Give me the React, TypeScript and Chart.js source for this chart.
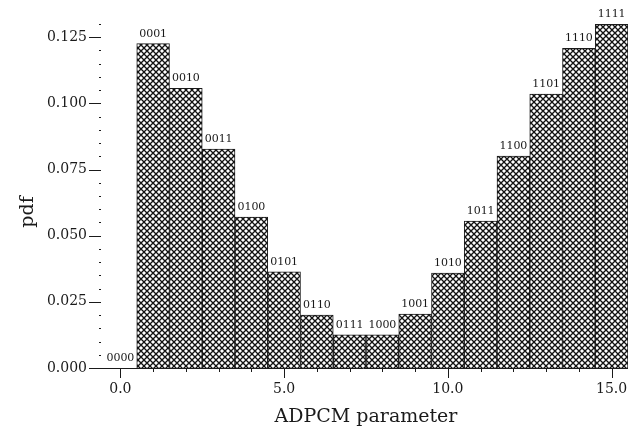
import { useEffect, useRef } from 'react';
import { Chart, registerables } from 'chart.js';

Chart.register(...registerables);

// ADPCM parameter values (x categories)
const parameters = [0, 1, 2, 3, 4, 5, 6, 7, 8, 9, 10, 11, 12, 13, 14, 15];
// binary code labels drawn above each bar
const codes = [
  '0000', '0001', '0010', '0011', '0100', '0101', '0110', '0111',
  '1000', '1001', '1010', '1011', '1100', '1101', '1110', '1111',
];
// probability density of each parameter value
const pdf = [
  0.0, 0.1226, 0.1057, 0.0827, 0.057, 0.0363, 0.02, 0.0125,
  0.0125, 0.0204, 0.0359, 0.0555, 0.0801, 0.1035, 0.1208, 0.1299,
];
// labelled y ticks
const yMajorTicks = [0, 0.025, 0.05, 0.075, 0.1, 0.125];
// x ticks that carry a label
const xMajorTicks = [0, 5, 10, 15];

const FONT = "'DejaVu Serif', 'Liberation Serif', serif";
const INK = '#1a1a1a';

function makeHatch(): CanvasPattern | string {
  const c = document.createElement('canvas');
  c.width = 6;
  c.height = 6;
  const g = c.getContext('2d');
  if (!g) return '#888';
  g.fillStyle = '#ffffff';
  g.fillRect(0, 0, 6, 6);
  g.strokeStyle = '#111111';
  g.lineWidth = 1.35;
  g.beginPath();
  g.moveTo(-1, -1);
  g.lineTo(7, 7);
  g.moveTo(-1, 7);
  g.lineTo(7, -1);
  g.stroke();
  const p = g.createPattern(c, 'repeat');
  return p || '#888';
}

const isMajorY = (v: number) => yMajorTicks.some((m) => Math.abs(m - v) < 1e-7);

const decorPlugin = {
  id: 'decor',
  afterDatasetsDraw(chart: any) {
    const ctx = chart.ctx as CanvasRenderingContext2D;
    const xs = chart.scales.x;
    const ys = chart.scales.y;
    const area = chart.chartArea;
    const base = ys.getPixelForValue(0);
    ctx.save();
    ctx.strokeStyle = INK;
    ctx.lineWidth = 1;

    // baseline
    ctx.beginPath();
    ctx.moveTo(99, base + 0.5);
    ctx.lineTo(area.right, base + 0.5);
    ctx.stroke();

    // y ticks
    const axisX = 101;
    ys.ticks.forEach((t: any) => {
      const py = Math.round(ys.getPixelForValue(t.value)) + 0.5;
      ctx.beginPath();
      if (isMajorY(t.value)) {
        ctx.moveTo(axisX - 12, py);
        ctx.lineTo(axisX, py);
      } else {
        ctx.moveTo(axisX - 2, py);
        ctx.lineTo(axisX, py);
      }
      ctx.stroke();
    });

    // x ticks
    parameters.forEach((p, i) => {
      const px = Math.round(xs.getPixelForValue(i)) + 0.5;
      const major = xMajorTicks.includes(p);
      ctx.beginPath();
      ctx.moveTo(px, base);
      ctx.lineTo(px, base + (major ? 10 : 4));
      ctx.stroke();
    });

    // code labels above bars
    const meta = chart.getDatasetMeta(0);
    ctx.fillStyle = INK;
    ctx.font = `11px ${FONT}`;
    ctx.textAlign = 'center';
    ctx.textBaseline = 'alphabetic';
    meta.data.forEach((bar: any, i: number) => {
      ctx.fillText(codes[i], bar.x, bar.y - 7);
    });

    // y axis title
    ctx.font = `19px ${FONT}`;
    ctx.textBaseline = 'middle';
    ctx.translate(28, 212);
    ctx.rotate(-Math.PI / 2);
    ctx.fillText('pdf', 0, 0);
    ctx.restore();
  },
};

export default function App() {
  const ref = useRef<HTMLCanvasElement | null>(null);

  useEffect(() => {
    if (!ref.current) return;
    const hatch = makeHatch();
    const chart = new Chart(ref.current, {
      type: 'bar',
      data: {
        labels: parameters.map(String),
        datasets: [
          {
            data: pdf,
            backgroundColor: hatch as any,
            borderColor: INK,
            borderWidth: 1,
            barPercentage: 1,
            categoryPercentage: 1,
          },
        ],
      },
      options: {
        animation: false,
        responsive: false,
        events: [],
        layout: { padding: { left: 0, right: 1, top: 24, bottom: 0 } },
        plugins: {
          legend: { display: false },
          tooltip: { enabled: false },
        },
        scales: {
          x: {
            type: 'category',
            offset: true,
            grid: { display: false, drawTicks: false },
            border: { display: false },
            ticks: {
              autoSkip: false,
              maxRotation: 0,
              padding: 13,
              color: INK,
              font: { family: FONT, size: 14 },
              callback: (_v: any, i: number) =>
                xMajorTicks.includes(parameters[i]) ? parameters[i].toFixed(1) : '',
            },
            title: {
              display: true,
              text: 'ADPCM parameter',
              color: INK,
              font: { family: FONT, size: 19 },
              padding: { top: 0, bottom: 0 },
            },
            afterFit: (s: any) => {
              s.height = 60;
              s.paddingLeft = 0;
              s.paddingRight = 0;
            },
          },
          y: {
            type: 'linear',
            min: 0,
            max: 0.13,
            grid: { display: false, drawTicks: false },
            border: { display: false },
            ticks: {
              stepSize: 0.005,
              maxTicksLimit: 40,
              autoSkip: false,
              padding: 17,
              color: INK,
              font: { family: FONT, size: 14 },
              callback: (v: any) => (isMajorY(Number(v)) ? Number(v).toFixed(3) : ''),
            },
            afterFit: (s: any) => {
              s.width = 104;
              s.paddingTop = 0;
              s.paddingBottom = 0;
            },
          },
        },
      },
      plugins: [decorPlugin],
    });
    return () => chart.destroy();
  }, []);

  return (
    <canvas
      ref={ref}
      width={629}
      height={428}
      style={{ position: 'absolute', left: 0, top: 0, width: 629, height: 428 }}
    />
  );
}
